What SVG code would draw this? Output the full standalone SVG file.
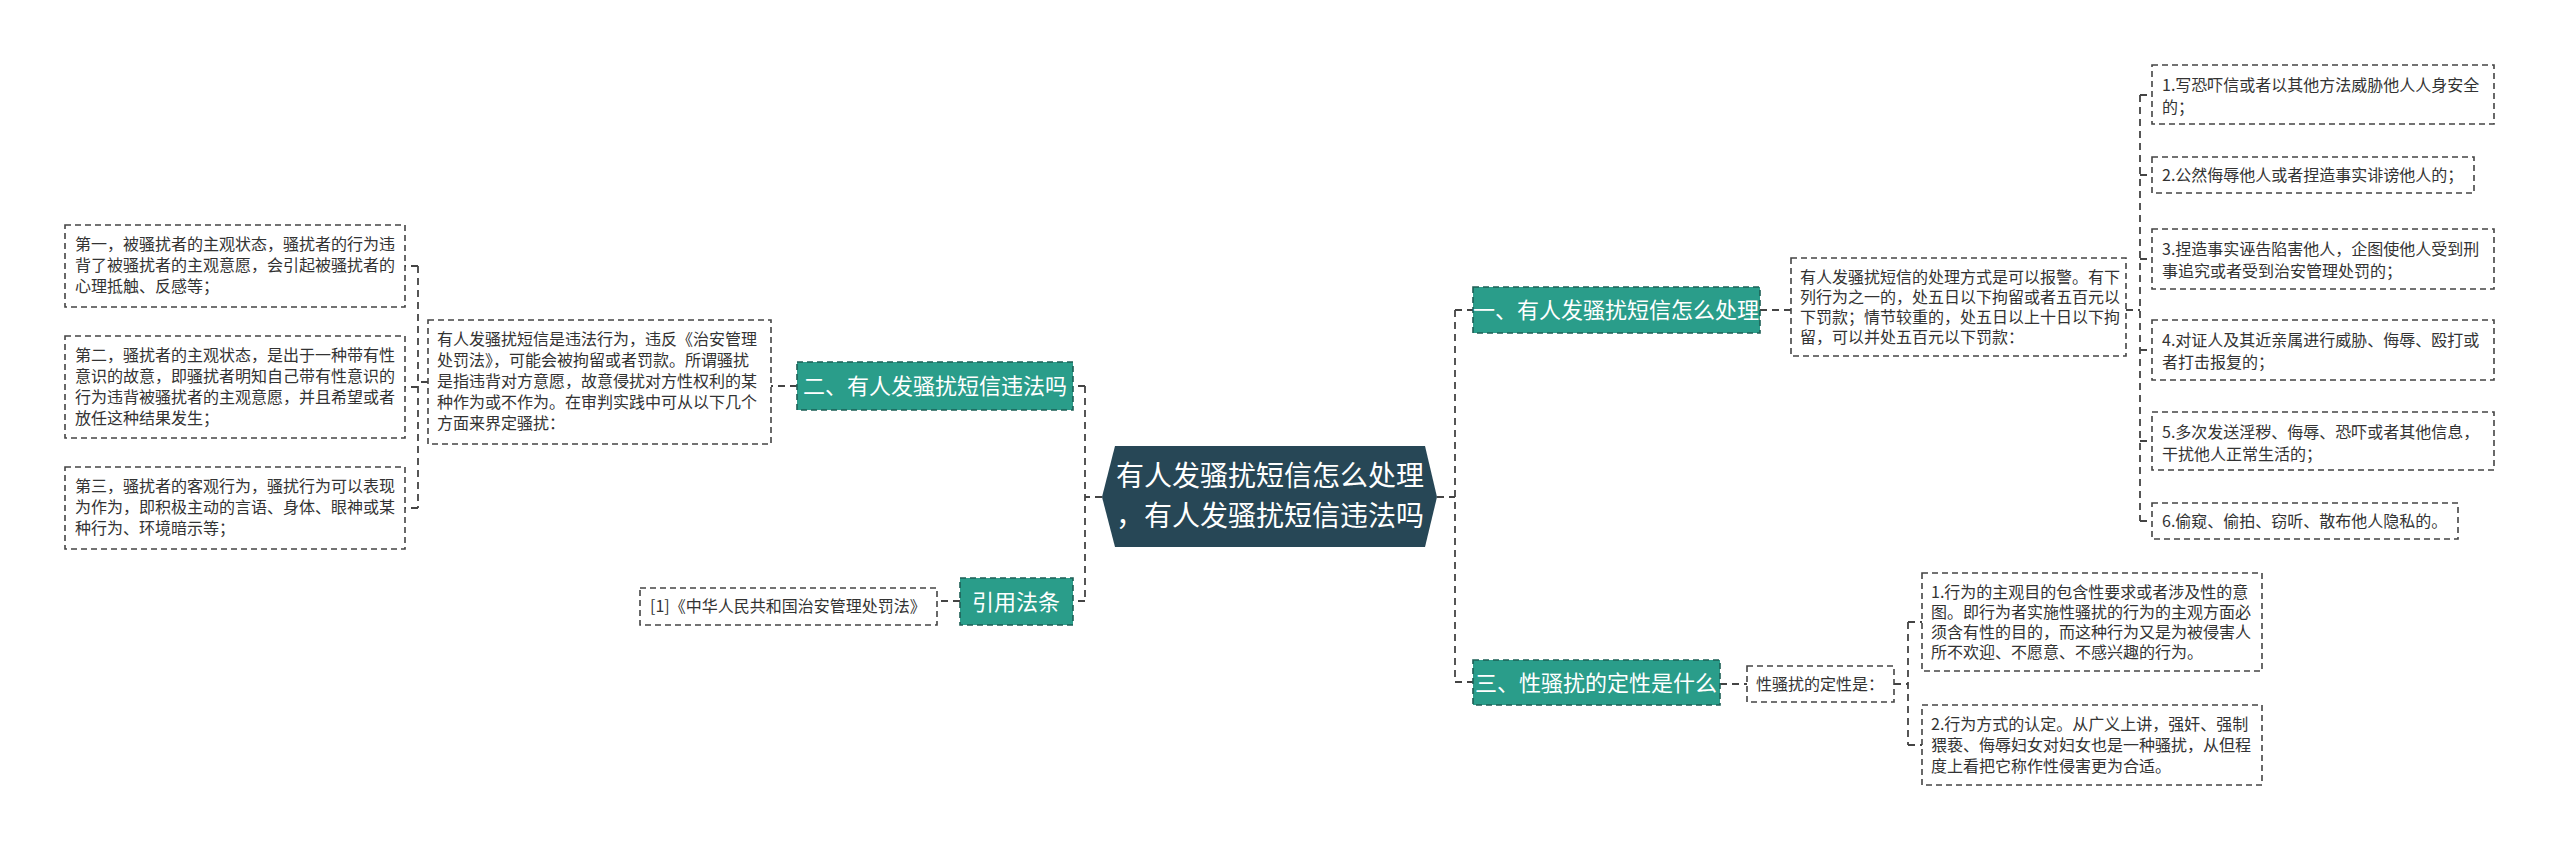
<svg xmlns="http://www.w3.org/2000/svg" width="2560" height="854" viewBox="0 0 2560 854">
<style>
text{font-family:"Noto Sans CJK SC","Noto Sans",sans-serif}
.s{font-size:16px;fill:#333}
.b{font-size:22px;fill:#fff}
.c{font-size:28px;fill:#fff}
.box{fill:#fff;stroke:#444;stroke-width:1.6;stroke-dasharray:6 4}
.tb{fill:#2a9d8a;stroke:#1d5f55;stroke-width:1.6;stroke-dasharray:6 4}
.ln{fill:none;stroke:#444;stroke-width:1.8;stroke-dasharray:7 5}
</style>
<rect width="2560" height="854" fill="#fff"/>
<g id="connectors">
<path class="ln" d="M1437 497 H1455 M1455 310 V682 M1455 310 H1473 M1455 682 H1473"/>
<path class="ln" d="M1102 497 H1085 M1085 386 V601 M1085 386 H1073 M1085 601 H1073"/>
<path class="ln" d="M1760 310 H1791 M2126 310 H2140 M2140 95 V521 M2140 95 H2152 M2140 175 H2152 M2140 259 H2152 M2140 350 H2152 M2140 441 H2152 M2140 521 H2152"/>
<path class="ln" d="M1720 684 H1747 M1894 684 H1908 M1908 622 V745 M1908 622 H1922 M1908 745 H1922"/>
<path class="ln" d="M797 386 H771 M428 382 H418 M418 266 V508 M418 266 H405 M418 387 H405 M418 508 H405"/>
<path class="ln" d="M960 601 H937"/>
</g>
<g id="center">
<path d="M1115 446 H1425 L1437 497 L1425 547 H1115 L1102 497 Z" fill="#274756"/>
<text class="c" x="1270" y="486" text-anchor="middle">有人发骚扰短信怎么处理</text>
<text class="c" x="1270" y="526" text-anchor="middle">，有人发骚扰短信违法吗</text>
</g>
<g id="n1">
<rect class="tb" x="1473" y="287" width="287" height="46"/>
<text class="b" x="1616" y="318" text-anchor="middle">一、有人发骚扰短信怎么处理</text>
</g>
<g id="n1t">
<rect class="box" x="1791" y="258" width="335" height="98"/>
<text class="s" x="1800" y="283">有人发骚扰短信的处理方式是可以报警。有下</text>
<text class="s" x="1800" y="303">列行为之一的，处五日以下拘留或者五百元以</text>
<text class="s" x="1800" y="323">下罚款；情节较重的，处五日以上十日以下拘</text>
<text class="s" x="1800" y="343">留，可以并处五百元以下罚款：</text>
</g>
<g id="r1"><rect class="box" x="2152" y="65" width="342" height="59"/>
<text class="s" x="2162" y="91">1.写恐吓信或者以其他方法威胁他人人身安全</text><text class="s" x="2162" y="113">的；</text></g>
<g id="r2"><rect class="box" x="2152" y="157" width="322" height="36"/>
<text class="s" x="2162" y="181">2.公然侮辱他人或者捏造事实诽谤他人的；</text></g>
<g id="r3"><rect class="box" x="2152" y="229" width="342" height="60"/>
<text class="s" x="2162" y="255">3.捏造事实诬告陷害他人，企图使他人受到刑</text><text class="s" x="2162" y="277">事追究或者受到治安管理处罚的；</text></g>
<g id="r4"><rect class="box" x="2152" y="320" width="342" height="60"/>
<text class="s" x="2162" y="346">4.对证人及其近亲属进行威胁、侮辱、殴打或</text><text class="s" x="2162" y="368">者打击报复的；</text></g>
<g id="r5"><rect class="box" x="2152" y="412" width="342" height="58"/>
<text class="s" x="2162" y="438">5.多次发送淫秽、侮辱、恐吓或者其他信息，</text><text class="s" x="2162" y="460">干扰他人正常生活的；</text></g>
<g id="r6"><rect class="box" x="2152" y="503" width="306" height="36"/>
<text class="s" x="2162" y="527">6.偷窥、偷拍、窃听、散布他人隐私的。</text></g>
<g id="n3">
<rect class="tb" x="1473" y="660" width="247" height="45"/>
<text class="b" x="1596" y="691" text-anchor="middle">三、性骚扰的定性是什么</text>
</g>
<g id="n3t"><rect class="box" x="1747" y="666" width="147" height="36"/>
<text class="s" x="1756" y="690">性骚扰的定性是：</text></g>
<g id="s1"><rect class="box" x="1922" y="573" width="340" height="98"/>
<text class="s" x="1931" y="598">1.行为的主观目的包含性要求或者涉及性的意</text>
<text class="s" x="1931" y="618">图。即行为者实施性骚扰的行为的主观方面必</text>
<text class="s" x="1931" y="638">须含有性的目的，而这种行为又是为被侵害人</text>
<text class="s" x="1931" y="658">所不欢迎、不愿意、不感兴趣的行为。</text></g>
<g id="s2"><rect class="box" x="1922" y="705" width="340" height="80"/>
<text class="s" x="1931" y="730">2.行为方式的认定。从广义上讲，强奸、强制</text>
<text class="s" x="1931" y="751">猥亵、侮辱妇女对妇女也是一种骚扰，从但程</text>
<text class="s" x="1931" y="772">度上看把它称作性侵害更为合适。</text></g>
<g id="n2">
<rect class="tb" x="797" y="362" width="276" height="48"/>
<text class="b" x="935" y="394" text-anchor="middle">二、有人发骚扰短信违法吗</text>
</g>
<g id="n2t"><rect class="box" x="428" y="320" width="343" height="124"/>
<text class="s" x="437" y="345">有人发骚扰短信是违法行为，违反《治安管理</text>
<text class="s" x="437" y="366">处罚法》，可能会被拘留或者罚款。所谓骚扰</text>
<text class="s" x="437" y="387">是指违背对方意愿，故意侵扰对方性权利的某</text>
<text class="s" x="437" y="408">种作为或不作为。在审判实践中可从以下几个</text>
<text class="s" x="437" y="429">方面来界定骚扰：</text></g>
<g id="l1"><rect class="box" x="65" y="225" width="340" height="82"/>
<text class="s" x="75" y="250">第一，被骚扰者的主观状态，骚扰者的行为违</text>
<text class="s" x="75" y="271">背了被骚扰者的主观意愿，会引起被骚扰者的</text>
<text class="s" x="75" y="292">心理抵触、反感等；</text></g>
<g id="l2"><rect class="box" x="65" y="336" width="340" height="102"/>
<text class="s" x="75" y="361">第二，骚扰者的主观状态，是出于一种带有性</text>
<text class="s" x="75" y="382">意识的故意，即骚扰者明知自己带有性意识的</text>
<text class="s" x="75" y="403">行为违背被骚扰者的主观意愿，并且希望或者</text>
<text class="s" x="75" y="424">放任这种结果发生；</text></g>
<g id="l3"><rect class="box" x="65" y="467" width="340" height="82"/>
<text class="s" x="75" y="492">第三，骚扰者的客观行为，骚扰行为可以表现</text>
<text class="s" x="75" y="513">为作为，即积极主动的言语、身体、眼神或某</text>
<text class="s" x="75" y="534">种行为、环境暗示等；</text></g>
<g id="n4">
<rect class="tb" x="960" y="578" width="113" height="47"/>
<text class="b" x="1016" y="610" text-anchor="middle">引用法条</text>
</g>
<g id="n4t"><rect class="box" x="640" y="588" width="297" height="37"/>
<text class="s" x="650" y="612">[1]《中华人民共和国治安管理处罚法》</text></g>
</svg>
